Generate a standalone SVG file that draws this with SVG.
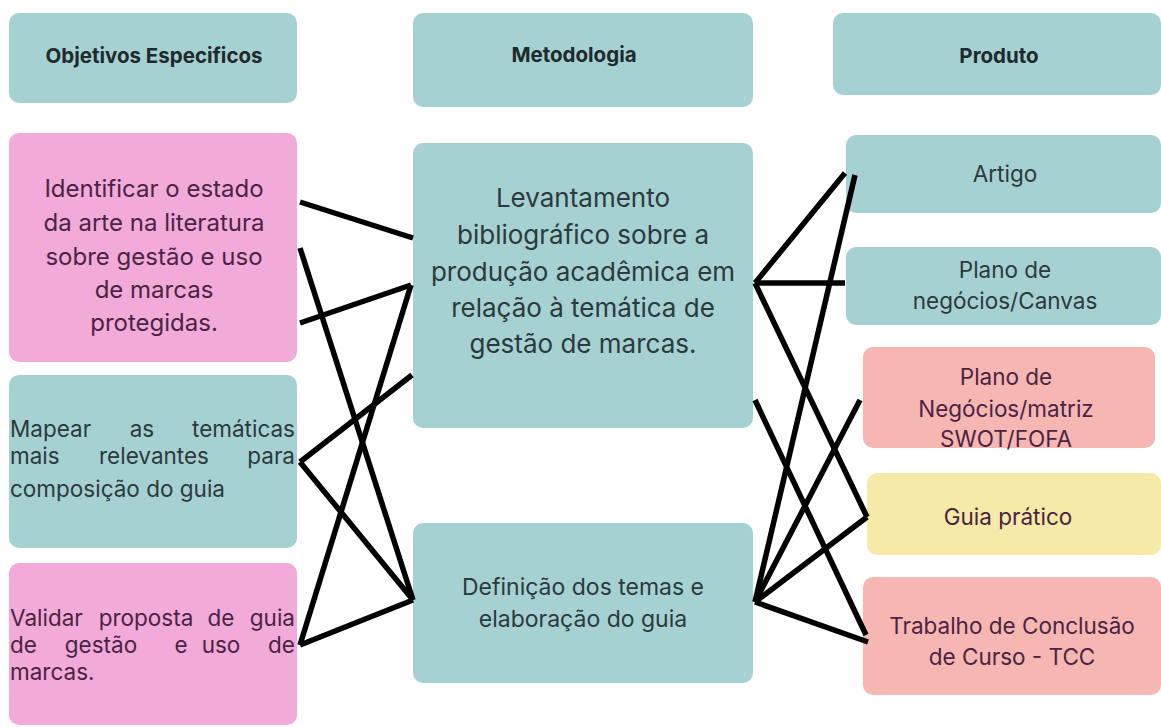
<svg xmlns="http://www.w3.org/2000/svg" width="1161" height="727" viewBox="0 0 1161 727">
<style>
.teal{fill:#a6d1d3}
.pink{fill:#f2aad9}
.salmon{fill:#f6b7b2}
.yellow{fill:#f6eaa9}
text{font-family:Inter,"Noto Sans","Liberation Sans",sans-serif;fill:#2b3a3b}
.h{font-size:20.5px;font-weight:bold;text-anchor:middle;fill:#1f2a2b}
.c{text-anchor:middle}
.pt{fill:#4a2442}
.s24{font-size:24px}
.s23{font-size:23px}
.s21{font-size:22.5px}
.s26{font-size:26px}
.s22{font-size:22.5px}
.m{text-anchor:middle}
.e{text-anchor:end}
.conn line{stroke:#000;stroke-width:5.5;stroke-linecap:butt}
</style>
<rect width="1161" height="727" fill="#ffffff"/>
<g id="h-objetivos"><rect class="teal" x="9" y="13" width="288" height="90" rx="10"/><text class="h" x="154" y="63">Objetivos Especificos</text></g>
<g id="h-metodologia"><rect class="teal" x="413" y="13" width="340" height="94" rx="10"/><text class="h" x="574" y="62">Metodologia</text></g>
<g id="h-produto"><rect class="teal" x="833" y="13" width="328" height="82" rx="10"/><text class="h" x="999" y="63">Produto</text></g>

<g id="obj1"><rect class="pink" x="9" y="133" width="288" height="229" rx="10"/>
<text class="c s24 pt" x="154"><tspan x="154" y="197">Identificar o estado</tspan><tspan x="154" y="231">da arte na literatura</tspan><tspan x="154" y="265">sobre gestão e uso</tspan><tspan x="154" y="298">de marcas</tspan><tspan x="154" y="331">protegidas.</tspan></text></g>
<g id="obj2"><rect class="teal" x="9" y="375" width="288" height="173" rx="10"/>
<text class="s21"><tspan x="10" y="437">Mapear</tspan><tspan class="m" x="142" y="437">as</tspan><tspan class="e" x="295" y="437">temáticas</tspan><tspan x="10" y="464">mais</tspan><tspan class="m" x="154" y="464">relevantes</tspan><tspan class="e" x="295" y="464">para</tspan><tspan x="10" y="497">composição do guia</tspan></text></g>
<g id="obj3"><rect class="pink" x="9" y="563" width="288" height="162" rx="10"/>
<text class="s21 pt"><tspan x="10" y="626">Validar</tspan><tspan class="m" x="146" y="626">proposta</tspan><tspan class="m" x="221" y="626">de</tspan><tspan class="e" x="295" y="626">guia</tspan><tspan x="10" y="653">de</tspan><tspan class="m" x="101" y="653">gestão</tspan><tspan class="m" x="181" y="653">e</tspan><tspan class="m" x="221" y="653">uso</tspan><tspan class="e" x="295" y="653">de</tspan><tspan x="10" y="680">marcas.</tspan></text></g>

<g id="met1"><rect class="teal" x="413" y="143" width="340" height="285" rx="10"/>
<text class="c s26" x="583"><tspan x="583" y="207">Levantamento</tspan><tspan x="583" y="244">bibliográfico sobre a</tspan><tspan x="583" y="281">produção acadêmica em</tspan><tspan x="583" y="317">relação à temática de</tspan><tspan x="583" y="353">gestão de marcas.</tspan></text></g>
<g id="met2"><rect class="teal" x="413" y="523" width="340" height="160" rx="10"/>
<text class="c s23" x="583"><tspan x="583" y="595">Definição dos temas e</tspan><tspan x="583" y="627">elaboração do guia</tspan></text></g>

<g id="p-artigo"><rect class="teal" x="846" y="135" width="315" height="78" rx="10"/><text class="c s22" x="1005" y="182">Artigo</text></g>
<g id="p-canvas"><rect class="teal" x="846" y="247" width="315" height="78" rx="10"/><text class="c s22" x="1005"><tspan x="1005" y="278">Plano de</tspan><tspan x="1005" y="309">negócios/Canvas</tspan></text></g>
<g id="p-swot"><rect class="salmon" x="863" y="347" width="292" height="101" rx="10"/><text class="c s22 pt" x="1006"><tspan x="1006" y="385">Plano de</tspan><tspan x="1006" y="417">Negócios/matriz</tspan><tspan x="1006" y="447">SWOT/FOFA</tspan></text></g>
<g id="p-guia"><rect class="yellow" x="867" y="473" width="294" height="82" rx="10"/><text class="c s22 pt" x="1008" y="525">Guia prático</text></g>
<g id="p-tcc"><rect class="salmon" x="863" y="577" width="298" height="118" rx="10"/><text class="c s22 pt" x="1012"><tspan x="1012" y="634">Trabalho de Conclusão</tspan><tspan x="1012" y="665">de Curso - TCC</tspan></text></g>

<g id="connectors" class="conn">
<line x1="300" y1="202" x2="413" y2="238"/>
<line x1="300" y1="248" x2="413" y2="600"/>
<line x1="300" y1="323" x2="411" y2="285"/>
<line x1="411" y1="285" x2="300" y2="645"/>
<line x1="412" y1="375" x2="300" y2="462"/>
<line x1="300" y1="462" x2="413" y2="600"/>
<line x1="300" y1="645" x2="413" y2="600"/>
<line x1="755" y1="283" x2="845" y2="173"/>
<line x1="755" y1="283" x2="845" y2="283"/>
<line x1="755" y1="283" x2="867" y2="517"/>
<line x1="855" y1="175" x2="755" y2="602"/>
<line x1="755" y1="400" x2="866" y2="635"/>
<line x1="860" y1="400" x2="755" y2="602"/>
<line x1="867" y1="517" x2="755" y2="602"/>
<line x1="755" y1="602" x2="868" y2="642"/>
</g>
</svg>
